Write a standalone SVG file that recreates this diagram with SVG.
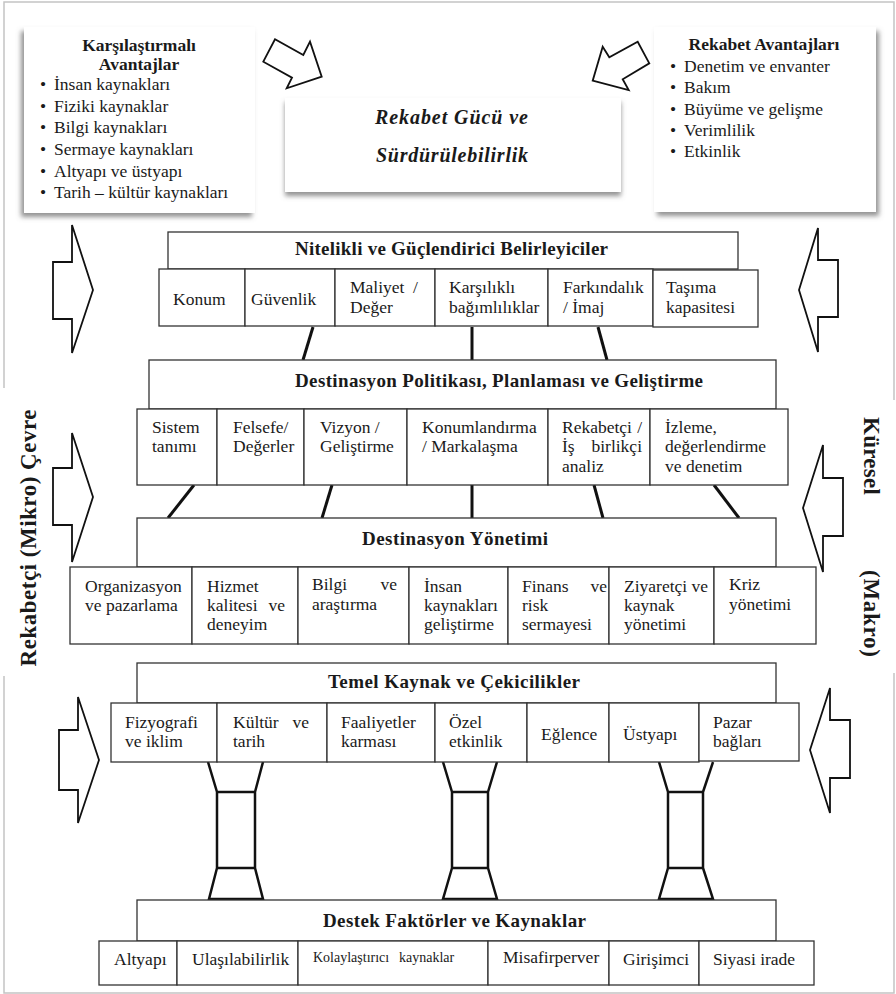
<svg xmlns="http://www.w3.org/2000/svg" width="896" height="994" viewBox="0 0 896 994">
<style>
text{font-family:"Liberation Serif","Times New Roman",serif;fill:#1a1a1a;font-size:17.5px}
.b{font-weight:bold}
.hd{font-weight:bold;font-size:19px}
.ti{font-weight:bold;font-style:italic;font-size:20px}
.side{font-weight:bold;font-size:23px}
.sm{font-size:14px}
.box{fill:#fff;stroke:#333;stroke-width:1.3}
.arr{fill:#fff;stroke:#111;stroke-width:1.8;stroke-linejoin:miter}
.con{stroke:#111;stroke-width:3;fill:none}
.pil{stroke:#111;stroke-width:2.5;fill:none}
.frame{stroke:#c4c4c4;stroke-width:1.5;fill:none}
</style>
<defs>
<filter id="shL" x="-10%" y="-10%" width="120%" height="125%"><feDropShadow dx="-3" dy="4" stdDeviation="2.5" flood-color="#777" flood-opacity="0.8"/></filter>
<filter id="shC" x="-10%" y="-10%" width="120%" height="130%"><feDropShadow dx="0" dy="4" stdDeviation="2.5" flood-color="#777" flood-opacity="0.8"/></filter>
<filter id="shR" x="-10%" y="-10%" width="120%" height="125%"><feDropShadow dx="3" dy="4" stdDeviation="2.5" flood-color="#777" flood-opacity="0.8"/></filter>
</defs>
<rect width="896" height="994" fill="#fff"/>
<path class="frame" d="M4,388 V2 H894 V400 M894,673 V993 H4 V676"/>

<g id="karsilastirmali">
<rect x="24" y="27" width="231" height="186" fill="#fff" filter="url(#shL)"/>
<text class="b" x="139" y="51" text-anchor="middle">Karşılaştırmalı</text>
<text class="b" x="139" y="70" text-anchor="middle">Avantajlar</text>
<text x="40" y="90">•</text><text x="54" y="90">İnsan kaynakları</text>
<text x="40" y="112">•</text><text x="54" y="112">Fiziki kaynaklar</text>
<text x="40" y="133">•</text><text x="54" y="133">Bilgi kaynakları</text>
<text x="40" y="155">•</text><text x="54" y="155">Sermaye kaynakları</text>
<text x="40" y="177">•</text><text x="54" y="177">Altyapı ve üstyapı</text>
<text x="40" y="198">•</text><text x="54" y="198">Tarih – kültür kaynakları</text>
</g>

<g id="rekabet-gucu">
<rect x="285" y="98" width="336" height="94" fill="#fff" filter="url(#shC)"/>
<text class="ti" x="375" y="124" textLength="153" lengthAdjust="spacing">Rekabet Gücü ve</text>
<text class="ti" x="376" y="162" textLength="152" lengthAdjust="spacing">Sürdürülebilirlik</text>
</g>

<g id="rekabet-avantajlari">
<rect x="654" y="27" width="222" height="185" fill="#fff" filter="url(#shR)"/>
<text class="b" x="764" y="50" text-anchor="middle">Rekabet Avantajları</text>
<text x="670" y="72">•</text><text x="684" y="72">Denetim ve envanter</text>
<text x="670" y="93">•</text><text x="684" y="93">Bakım</text>
<text x="670" y="115">•</text><text x="684" y="115">Büyüme ve gelişme</text>
<text x="670" y="136">•</text><text x="684" y="136">Verimlilik</text>
<text x="670" y="157">•</text><text x="684" y="157">Etkinlik</text>
</g>

<g id="arrows">
<polygon class="arr" points="263.3,61.7 275,39.3 303.3,55 310,41.7 321.7,76.7 286.7,88.3 292,77.7"/>
<polygon class="arr" points="602.7,46.7 609.3,57.3 637.7,41.7 649.3,63.3 622.7,79.3 628.7,90 592.7,80.7"/>
<polygon class="arr" points="53,262 72,262 72,225 93,290 72,353 72,319 53,319"/>
<polygon class="arr" points="53,468 72,468 72,433 93,497 72,562 72,525 53,525"/>
<polygon class="arr" points="59,730 78,730 78,697 99,760 78,823 78,790 59,790"/>
<polygon class="arr" points="838,260 818,260 818,228 799,290 818,352 818,317 838,317"/>
<polygon class="arr" points="843,478 823,478 823,445 803,508 823,572 823,536 843,536"/>
<polygon class="arr" points="850,720 830,720 830,688 810,750 830,813 830,778 850,778"/>
</g>

<g id="side-labels">
<text class="side" transform="translate(36,538) rotate(-90)" text-anchor="middle" textLength="257" lengthAdjust="spacing">Rekabetçi (Mikro) Çevre</text>
<text class="side" transform="translate(864,417) rotate(90)" textLength="78" lengthAdjust="spacing">Küresel</text>
<text class="side" transform="translate(864,570) rotate(90)" textLength="87" lengthAdjust="spacing">(Makro)</text>
</g>

<g id="connectors">
<line class="con" x1="313" y1="327" x2="303" y2="360"/>
<line class="con" x1="472" y1="327" x2="472" y2="360"/>
<line class="con" x1="598" y1="327" x2="607" y2="360"/>
<line class="con" x1="194" y1="485" x2="168" y2="518"/>
<line class="con" x1="332" y1="485" x2="322" y2="518"/>
<line class="con" x1="472" y1="485" x2="472" y2="518"/>
<line class="con" x1="594" y1="485" x2="603" y2="518"/>
<line class="con" x1="714" y1="485" x2="739" y2="518"/>
<path class="pil" d="M208,762 L217,792 M263,762 L255,792 M217,792 H255 V868 H217 Z M217,868 L209,899 H263 L255,868"/>
<path class="pil" d="M443,762 L452,792 M497,762 L488,792 M452,792 H488 V868 H452 Z M452,868 L443,899 H497 L488,868"/>
<path class="pil" d="M659,762 L668,792 M713,762 L703,792 M668,792 H703 V868 H668 Z M668,868 L659,899 H713 L703,868"/>
</g>

<g id="nitelikli">
<rect class="box" x="168" y="232" width="570" height="37"/>
<text class="hd" x="295" y="255" textLength="313" lengthAdjust="spacing">Nitelikli ve Güçlendirici Belirleyiciler</text>
<rect class="box" x="159" y="269" width="86" height="57"/>
<rect class="box" x="245" y="269" width="90" height="57"/>
<rect class="box" x="335" y="269" width="100" height="57"/>
<rect class="box" x="435" y="269" width="113" height="57"/>
<rect class="box" x="548" y="269" width="105" height="57"/>
<rect class="box" x="653" y="270" width="105" height="57"/>
<text x="173" y="305">Konum</text>
<text x="251" y="305">Güvenlik</text>
<text x="350" y="293">Maliyet</text><text x="413" y="293">/</text><text x="350" y="313">Değer</text>
<text x="449" y="293">Karşılıklı</text><text x="449" y="313">bağımlılıklar</text>
<text x="563" y="293">Farkındalık</text><text x="563" y="313">/ İmaj</text>
<text x="666" y="293">Taşıma</text><text x="666" y="313">kapasitesi</text>
</g>

<g id="politika">
<rect class="box" x="149" y="360" width="627" height="49"/>
<text class="hd" x="295" y="387" textLength="408" lengthAdjust="spacing">Destinasyon Politikası, Planlaması ve Geliştirme</text>
<rect class="box" x="137" y="409" width="80" height="76"/>
<rect class="box" x="217" y="409" width="87" height="76"/>
<rect class="box" x="304" y="409" width="103" height="76"/>
<rect class="box" x="407" y="409" width="141" height="76"/>
<rect class="box" x="548" y="409" width="102" height="76"/>
<rect class="box" x="650" y="409" width="138" height="76"/>
<text x="152" y="433">Sistem</text><text x="152" y="452">tanımı</text>
<text x="233" y="433">Felsefe/</text><text x="233" y="452">Değerler</text>
<text x="320" y="433">Vizyon /</text><text x="320" y="452">Geliştirme</text>
<text x="422" y="433">Konumlandırma</text><text x="422" y="452">/ Markalaşma</text>
<text x="562" y="433">Rekabetçi</text><text x="642" y="433" text-anchor="end">/</text>
<text x="562" y="452">İş</text><text x="642" y="452" text-anchor="end">birlikçi</text>
<text x="562" y="472">analiz</text>
<text x="665" y="433">İzleme,</text><text x="665" y="452">değerlendirme</text><text x="665" y="472">ve denetim</text>
</g>

<g id="yonetim">
<rect class="box" x="137" y="518" width="639" height="49"/>
<text class="hd" x="362" y="545" textLength="186" lengthAdjust="spacing">Destinasyon Yönetimi</text>
<rect class="box" x="70" y="567" width="122" height="77"/>
<rect class="box" x="192" y="567" width="106" height="77"/>
<rect class="box" x="298" y="567" width="111" height="77"/>
<rect class="box" x="409" y="567" width="99" height="77"/>
<rect class="box" x="508" y="567" width="101" height="77"/>
<rect class="box" x="609" y="567" width="105" height="77"/>
<rect class="box" x="714" y="567" width="102" height="77"/>
<text x="85" y="592">Organizasyon</text><text x="85" y="611">ve pazarlama</text>
<text x="207" y="592">Hizmet</text><text x="207" y="611">kalitesi</text><text x="285" y="611" text-anchor="end">ve</text><text x="207" y="630">deneyim</text>
<text x="312" y="590">Bilgi</text><text x="397" y="590" text-anchor="end">ve</text><text x="312" y="610">araştırma</text>
<text x="424" y="592">İnsan</text><text x="424" y="611">kaynakları</text><text x="424" y="630">geliştirme</text>
<text x="522" y="592">Finans</text><text x="607" y="592" text-anchor="end">ve</text><text x="522" y="611">risk</text><text x="522" y="630">sermayesi</text>
<text x="624" y="592">Ziyaretçi ve</text><text x="624" y="611">kaynak</text><text x="624" y="630">yönetimi</text>
<text x="729" y="590">Kriz</text><text x="729" y="610">yönetimi</text>
</g>

<g id="temel">
<rect class="box" x="137" y="663" width="639" height="40"/>
<text class="hd" x="328" y="688" textLength="252" lengthAdjust="spacing">Temel Kaynak ve Çekicilikler</text>
<rect class="box" x="111" y="703" width="106" height="59"/>
<rect class="box" x="217" y="703" width="110" height="59"/>
<rect class="box" x="327" y="703" width="108" height="59"/>
<rect class="box" x="435" y="703" width="92" height="59"/>
<rect class="box" x="527" y="703" width="82" height="59"/>
<rect class="box" x="609" y="703" width="90" height="59"/>
<rect class="box" x="699" y="703" width="100" height="58"/>
<text x="125" y="728">Fizyografi</text><text x="125" y="747">ve iklim</text>
<text x="233" y="728">Kültür</text><text x="309" y="728" text-anchor="end">ve</text><text x="233" y="747">tarih</text>
<text x="341" y="728">Faaliyetler</text><text x="341" y="747">karması</text>
<text x="449" y="728">Özel</text><text x="449" y="747">etkinlik</text>
<text x="541" y="740">Eğlence</text>
<text x="623" y="740">Üstyapı</text>
<text x="713" y="728">Pazar</text><text x="713" y="747">bağları</text>
</g>

<g id="destek">
<rect class="box" x="137" y="900" width="639" height="41"/>
<text class="hd" x="323" y="927" textLength="263" lengthAdjust="spacing">Destek Faktörler ve Kaynaklar</text>
<rect class="box" x="99" y="941" width="78" height="44"/>
<rect class="box" x="177" y="941" width="121" height="44"/>
<rect class="box" x="298" y="941" width="190" height="44"/>
<rect class="box" x="488" y="941" width="121" height="44"/>
<rect class="box" x="609" y="941" width="90" height="44"/>
<rect class="box" x="699" y="941" width="115" height="44"/>
<text x="114" y="965">Altyapı</text>
<text x="192" y="965">Ulaşılabilirlik</text>
<text class="sm" x="313" y="962">Kolaylaştırıcı</text><text class="sm" x="399" y="962">kaynaklar</text>
<text x="503" y="963">Misafirperver</text>
<text x="623" y="965">Girişimci</text>
<text x="713" y="965">Siyasi irade</text>
</g>
</svg>
